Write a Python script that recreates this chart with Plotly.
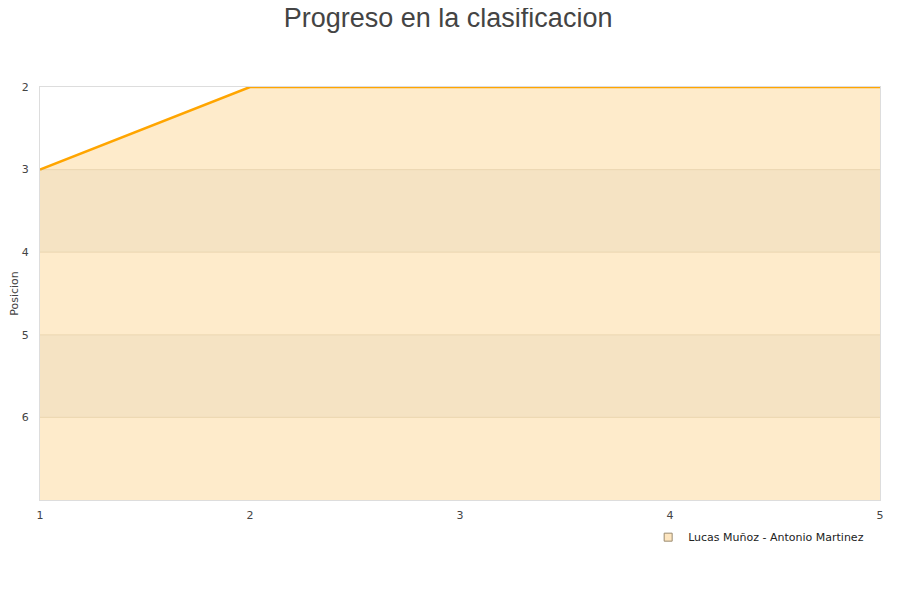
import plotly.graph_objects as go

jornadas = [1, 2, 3, 4, 5]
posicion = [3, 2, 2, 2, 2]
serie = "Lucas Muñoz - Antonio Martinez"
fondo_posicion = 7
bandas = [(3, 4), (5, 6)]

fig = go.Figure()
fig.add_trace(go.Scatter(x=jornadas, y=[fondo_posicion] * len(jornadas), mode="lines",
                         line=dict(width=0), showlegend=False, hoverinfo="skip"))
fig.add_trace(go.Scatter(x=jornadas, y=posicion, mode="lines", fill="tonexty",
                         fillcolor="#FEEBCB", line=dict(color="#FFA500", width=2.5),
                         showlegend=False, name=serie))
fig.add_trace(go.Scatter(x=[None], y=[None], mode="markers", name=serie,
                         marker=dict(symbol="square", size=8, color="#FEE6C0",
                                     line=dict(color="#9a8a70", width=1))))

for a, b in bandas:
    fig.add_shape(type="rect", xref="paper", x0=0, x1=1, yref="y", y0=a, y1=b,
                  fillcolor="rgba(164,155,123,0.1)", line=dict(width=0), layer="above")
for v in [3, 4, 5, 6]:
    fig.add_shape(type="line", xref="paper", x0=0, x1=1, yref="y", y0=v, y1=v,
                  line=dict(color="rgba(200,170,120,0.25)", width=1), layer="above")

fig.update_layout(
    width=900, height=600,
    paper_bgcolor="white", plot_bgcolor="white",
    margin=dict(l=32, r=28, t=79, b=108),
    title=dict(text="Progreso en la clasificacion", x=0.489, xanchor="center", y=1.0, yanchor="top",
               pad=dict(t=0, b=0),
               font=dict(family="Liberation Sans, Arial, sans-serif", size=27, color="#444")),
    font=dict(family="DejaVu Sans, sans-serif", size=11, color="#444"),
    xaxis=dict(range=[1, 5], tickvals=jornadas, showgrid=False, zeroline=False, automargin=False,
               showline=True, linecolor="#ddd", mirror=True, ticks="outside", ticklen=5,
               tickcolor="rgba(0,0,0,0)",
               tickfont=dict(size=11, color="#444")),
    yaxis=dict(range=[fondo_posicion, 2], tickvals=[2, 3, 4, 5, 6], showgrid=False, zeroline=False,
               automargin=False,
               showline=True, linecolor="#ddd", mirror=True, ticks="outside", ticklen=8,
               tickcolor="rgba(0,0,0,0)",
               title=dict(text="Posicion", font=dict(size=11, color="#444"), standoff=8),
               tickfont=dict(size=11, color="#444")),
    showlegend=True,
    legend=dict(x=0.724, y=-0.09, xanchor="left", yanchor="middle", orientation="h",
                font=dict(size=11, color="#222"), bgcolor="rgba(0,0,0,0)"),
)

fig.write_html("out.html")
